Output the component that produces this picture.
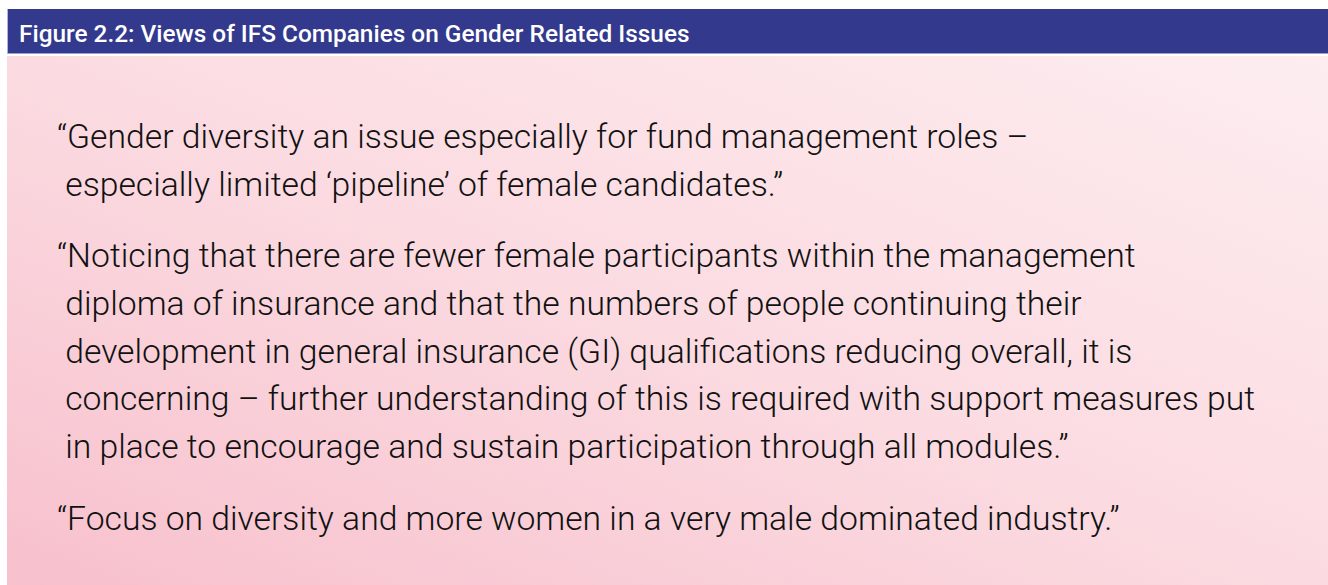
import React from "react";

const title = "Figure 2.2: Views of IFS Companies on Gender Related Issues";
const quote1 = [
  "\u201cGender diversity an issue especially for fund management roles \u2013",
  " especially limited \u2018pipeline\u2019 of female candidates.\u201d",
];
const quote2 = [
  "\u201cNoticing that there are fewer female participants within the management",
  " diploma of insurance and that the numbers of people continuing their",
  " development in general insurance (GI) qualifications reducing overall, it is",
  " concerning \u2013 further understanding of this is required with support measures put",
  " in place to encourage and sustain participation through all modules.\u201d",
];
const quote3 = ["\u201cFocus on diversity and more women in a very male dominated industry.\u201d"];
const paragraphs = [quote1, quote2, quote3];
const paragraphTops = [148, 267, 530];

export default function App() {
  const W = 1328;
  const H = 585;
  const lineH = 47.8;
  return (
    <div style={{ position: "absolute", left: 0, top: 0, width: W, height: H }}>
      <svg width={W} height={H} style={{ display: "block" }}>
        <defs>
          <linearGradient id="bg" x1="0" y1="1" x2="1" y2="0">
            <stop offset="0" stopColor="#f7c0cd" />
            <stop offset="0.5" stopColor="#fbdbe1" />
            <stop offset="1" stopColor="#fdedf0" />
          </linearGradient>
        </defs>
        <rect x={0} y={0} width={W} height={H} fill="#ffffff" />
        <rect x={7} y={9} width={W - 7} height={44} fill="#333a8d" />
        <line x1={7} x2={W} y1={53.5} y2={53.5} stroke="#9aa0d0" strokeWidth={1} />
        <line x1={7.5} x2={7.5} y1={9} y2={54} stroke="#b0b4dc" strokeWidth={1} />
        <text
          x={19}
          y={42}
          fill="#ffffff"
          fontFamily="Roboto"
          fontWeight={500}
          fontSize={24.4}
        >
          {title}
        </text>
        <rect x={7} y={56} width={W - 7} height={H - 56} fill="url(#bg)" />
        {paragraphs.map((lines, pi) =>
          lines.map((ln, li) => (
            <text
              key={pi + "-" + li}
              x={57}
              y={paragraphTops[pi] + li * lineH}
              fill="#111111"
              fontFamily="Roboto"
              fontWeight={300}
              fontSize={33.7}
              style={{ whiteSpace: "pre" }}
            >
              {ln}
            </text>
          ))
        )}
      </svg>
    </div>
  );
}
